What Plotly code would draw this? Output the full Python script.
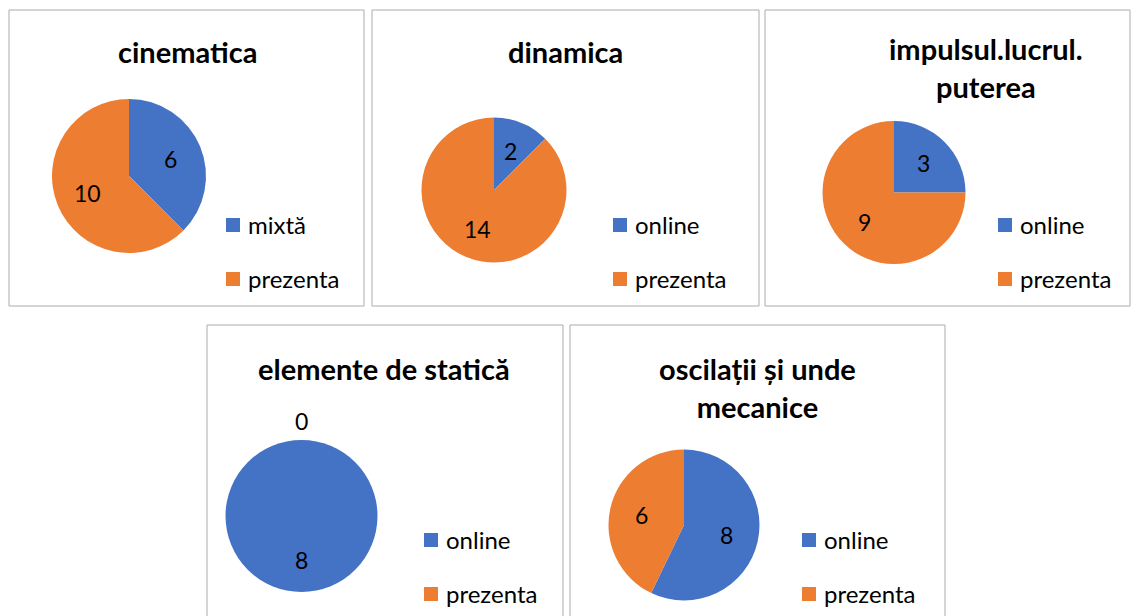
import math
import plotly.graph_objects as go

W, H = 1131, 616
BLUE = "#4472C4"
ORANGE = "#ED7D31"
BORDER = "#ABABAB"
FONT = "Lato, 'Open Sans', sans-serif"

# data
titles = [
    "cinematica",
    "dinamica",
    "impulsul.lucrul.<br>puterea",
    "elemente de statică",
    "oscilații și unde<br>mecanice",
]
cinematica_labels = ["mixtă", "prezenta"]
cinematica_vals = [6, 10]
dinamica_labels = ["online", "prezenta"]
dinamica_vals = [2, 14]
impuls_labels = ["online", "prezenta"]
impuls_vals = [3, 9]
statica_labels = ["online", "prezenta"]
statica_vals = [8, 0]
oscilatii_labels = ["online", "prezenta"]
oscilatii_vals = [8, 6]

all_labels = [cinematica_labels, dinamica_labels, impuls_labels, statica_labels, oscilatii_labels]
all_vals = [cinematica_vals, dinamica_vals, impuls_vals, statica_vals, oscilatii_vals]

# layout of each panel, in pixels: box, pie centre + radius, title centre, legend
boxes = [(9, 10, 364, 306), (372, 10, 759, 306), (765, 10, 1130, 306),
         (207, 325, 563, 640), (570, 325, 945, 640)]
pies = [(129, 176, 77), (494, 190, 72.5), (894, 192.5, 71.5),
        (301.5, 516, 76), (684, 525, 75.5)]
title_pos = [(187, 52), (565, 52), (986, 68), (384, 368), (757, 387)]
legend_pos = [(226, 224), (613, 224), (998, 224), (424, 539), (802, 539)]


def px(x):
    return x / W


def py(y):
    return 1 - y / H


def text(t, x, y, size, anchor="center"):
    return dict(text=t, x=px(x), y=py(y), xref="paper", yref="paper",
                showarrow=False, xanchor=anchor, yanchor="middle",
                font=dict(size=size, color="#000", family=FONT))


fig = go.Figure()
shapes = []
annotations = []

for i in range(5):
    cx, cy, r = pies[i]
    vals = all_vals[i]
    labs = all_labels[i]
    fig.add_trace(go.Pie(
        labels=labs, values=vals,
        sort=False, direction="clockwise", rotation=0,
        marker=dict(colors=[BLUE, ORANGE], line=dict(width=0)),
        textinfo="none", hoverinfo="label+value",
        domain=dict(x=[px(cx - r), px(cx + r)], y=[py(cy + r), py(cy - r)]),
        showlegend=False,
    ))

    # box
    x0, y0, x1, y1 = boxes[i]
    shapes.append(dict(type="rect", xref="paper", yref="paper",
                       x0=px(x0), x1=px(x1), y0=py(y1), y1=py(y0),
                       line=dict(color=BORDER, width=1), layer="below"))

    # title
    tx, ty = title_pos[i]
    annotations.append(text("<b>" + titles[i] + "</b>", tx, ty, 29))

    # value labels at slice mid-angle
    total = sum(vals)
    start = 0
    for v in vals:
        mid = (start + v / 2) / total * 2 * math.pi
        k = 0.58 if v > 0 else 1.25
        lx = cx + k * r * math.sin(mid)
        ly = cy - k * r * math.cos(mid)
        annotations.append(text(str(v), lx, ly, 23))
        start += v

    # legend
    lx, ly = legend_pos[i]
    for j, lab in enumerate(labs):
        yy = ly + j * 54
        shapes.append(dict(type="rect", xref="paper", yref="paper",
                           x0=px(lx), x1=px(lx + 14), y0=py(yy + 8), y1=py(yy - 6),
                           fillcolor=[BLUE, ORANGE][j], line=dict(width=0)))
        annotations.append(text(lab, lx + 20, yy, 24, anchor="left"))

fig.update_layout(
    width=W, height=H,
    margin=dict(l=0, r=0, t=0, b=0),
    paper_bgcolor="#fff", plot_bgcolor="#fff",
    shapes=shapes, annotations=annotations,
)
fig.write_html("out.html", config={"displayModeBar": False},
               post_script="document.body.style.margin='0';")
